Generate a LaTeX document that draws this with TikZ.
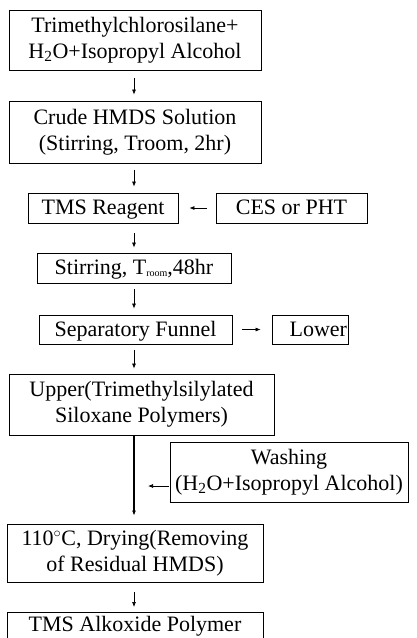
\documentclass[tikz,border=0pt]{standalone}
\usepackage{fontspec}
\setmainfont{Liberation Serif}
\usetikzlibrary{arrows.meta,positioning}
\tikzset
{
    procbox/.style = {draw=black, line width=0.8pt, align=center, inner sep=0pt, font=\fontsize{22}{26}\selectfont},
    onebox/.style  = {procbox, text height=16pt, text depth=3pt},
    flow/.style    = {line width=0.7pt, -{Latex[length=5pt,width=4pt]}},
    spineflow/.style = {line width=1.4pt, -{Latex[length=5pt,width=4pt]}}
}

\begin{document}
\begin{tikzpicture}[x=1pt, y=-1pt]
\useasboundingbox (0,0) rectangle (417,638);
\coordinate (spine) at (134,0);
\node[procbox, minimum width=252, minimum height=60] (mix) at (135,40) {Trimethylchlorosilane+\\H\textsubscript{2}O+Isopropyl Alcohol};
\node[procbox, minimum width=252, minimum height=62] (crude) at (135,132) {Crude HMDS Solution\\(Stirring, Troom, 2hr)};
\node[onebox, minimum width=150, minimum height=30] (tms) at (103,208) {TMS Reagent};
\node[onebox, minimum width=151, minimum height=30] (ces) at (291.5,208) {CES or PHT};
\node[onebox, minimum width=194, minimum height=30] (stir) at (134,268) {Stirring, T\raisebox{-1.5pt}{\fontsize{10}{10}\selectfont room},48hr};
\node[onebox, minimum width=193, minimum height=29] (funnel) at (135.5,329.5) {Separatory Funnel};
\node[onebox, minimum width=76, minimum height=29, text width=74pt, align=right] (lower) at (310,329.5) {Lower};
\node[procbox, minimum width=265, minimum height=61] (upper) at (141.5,404.5) {Upper(Trimethylsilylated\\Siloxane Polymers)};
\node[procbox, minimum width=238, minimum height=60] (wash) at (289,472) {Washing\\(H\textsubscript{2}O+Isopropyl Alcohol)};
\node[procbox, minimum width=256, minimum height=58] (dry) at (135,553) {110$^{\circ}$C, Drying(Removing\\of Residual HMDS)};
\node[procbox, minimum width=256, anchor=north, inner ysep=4pt, text depth=14pt] (product) at (135,612) {TMS Alkoxide Polymer};
\coordinate (washin) at ([yshift=-14pt]wash.west);

\draw[flow, shorten <=8pt, shorten >=6pt] (mix.south -| spine) -- (crude.north -| spine);
\draw[flow, shorten <=7pt, shorten >=6pt] (crude.south -| spine) -- (tms.north -| spine);
\draw[flow, shorten <=9pt, shorten >=11pt] (ces.west) -- (tms.east);
\draw[flow, shorten <=10pt, shorten >=5pt] (tms.south -| spine) -- (stir.north -| spine);
\draw[flow, shorten <=6pt, shorten >=6pt] (stir.south -| spine) -- (funnel.north -| spine);
\draw[flow, shorten <=10pt, shorten >=11pt] (funnel.east) -- (lower.west);
\draw[flow, shorten <=6pt, shorten >=5pt] (funnel.south -| spine) -- (upper.north -| spine);
\draw[spineflow, shorten >=8pt] (upper.south -| spine) -- (dry.north -| spine);
\draw[flow, shorten <=1pt, shorten >=14pt] (washin) -- (washin -| spine);
\draw[flow, shorten <=10pt, shorten >=5pt] (dry.south -| spine) -- (product.north -| spine);
\end{tikzpicture}
\end{document}
